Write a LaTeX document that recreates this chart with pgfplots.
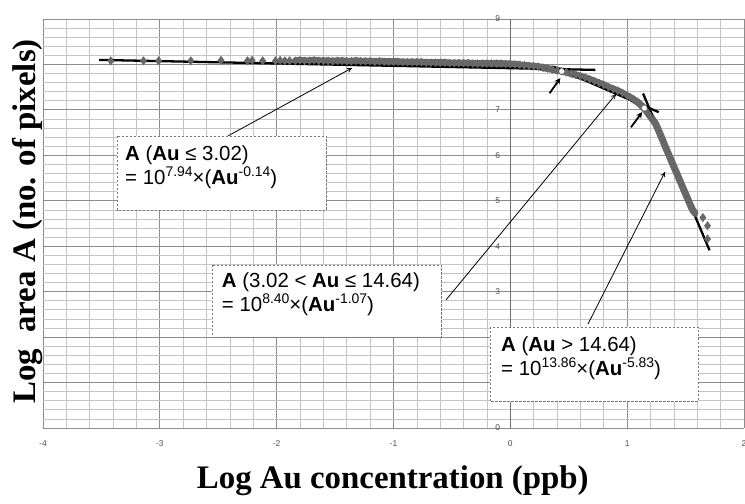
\documentclass[border=0pt]{standalone}
\usepackage{pgfplots}
\pgfplotsset{compat=1.18}
\usetikzlibrary{arrows.meta}
\usepackage{fontspec}
\setmainfont{Liberation Serif}
\newfontfamily\arial{Liberation Sans}
\definecolor{gridmajor}{RGB}{140,140,140}
\definecolor{gridminor}{RGB}{196,196,196}
\definecolor{ticktext}{RGB}{80,80,80}
\definecolor{pts}{RGB}{104,104,104}
\definecolor{boxline}{RGB}{120,120,120}
\newcommand{\sups}[1]{\raisebox{0.42em}{\fontsize{14}{14}\selectfont #1}}
\begin{document}
\begin{tikzpicture}
\path[use as bounding box] (-43bp,-76bp) rectangle (702bp,428bp);
\begin{axis}[
 at={(0,0)}, anchor=south west,
 width=701bp, height=409bp, scale only axis,
 xmin=-4, xmax=2, ymin=0, ymax=9,
 xtick={-4,...,2}, ytick={0,...,9},
 minor x tick num=4, minor y tick num=4,
 grid=both,
 major grid style={draw=gridmajor, line width=0.8bp},
 minor grid style={draw=gridminor, line width=0.7bp},
 axis line style={draw=none},
 major tick length=0pt, minor tick length=0pt,
 xticklabels={-4,-3,-2,-1,0,1,2},
 xticklabel style={font=\arial\fontsize{8.5}{9}\selectfont, text=ticktext, yshift=-9bp},
 yticklabels={},
 clip=false,
]
% axis lines
\draw[gridmajor!80!black, line width=0.9bp] (axis cs:0,0) -- (axis cs:0,9);
\draw[gridmajor, line width=0.9bp] (axis cs:-4,0) -- (axis cs:2,0);
% y tick labels at x = 0
\foreach \k in {0,...,9}{
  \edef\temp{\noexpand\node[anchor=east, inner sep=0pt, xshift=-10bp, font=\noexpand\arial\noexpand\fontsize{8.5}{9}\noexpand\selectfont, text=ticktext] at (axis cs:0,\k) {\k};}
  \temp
}
% sparse data points
\addplot[only marks, mark=diamond*, mark size=4.2bp, color=pts] coordinates {
(-3.42,8.08) (-3.14,8.08) (-3.01,8.08) (-2.735,8.08) (-2.476,8.09) (-2.25,8.08)
(-2.21,8.09) (-2.12,8.08) (-2.01,8.08) (-1.97,8.09) (-1.93,8.08) (-1.89,8.08)
(1.648,4.63) (1.688,4.45) (1.688,4.16)
};
% dense data points
\addplot[color=pts, line width=7bp, line join=round, line cap=round, mark=diamond*, mark size=4bp, mark options={line width=0.4bp}] coordinates {
(-1.84,8.08) (-1.80,8.09) (-1.76,8.08) (-1.72,8.08) (-1.68,8.09) (-1.64,8.08)
(-1.60,8.08) (-1.56,8.08) (-1.52,8.07) (-1.48,8.08) (-1.44,8.08) (-1.40,8.07)
(-1.36,8.07) (-1.32,8.08) (-1.28,8.07) (-1.24,8.07) (-1.20,8.07) (-1.16,8.06)
(-1.12,8.07) (-1.08,8.06) (-1.04,8.06) (-1.00,8.06) (-0.96,8.06) (-0.92,8.05)
(-0.88,8.05) (-0.84,8.05) (-0.80,8.05) (-0.76,8.05) (-0.72,8.04) (-0.68,8.04)
(-0.64,8.04) (-0.60,8.04) (-0.56,8.04) (-0.52,8.03) (-0.48,8.03) (-0.44,8.03)
(-0.40,8.03) (-0.36,8.03) (-0.32,8.02) (-0.28,8.02) (-0.24,8.02) (-0.20,8.02)
(-0.16,8.02) (-0.12,8.02) (-0.08,8.02) (-0.04,8.01) (0.00,8.01) (0.04,8.00)
(0.08,7.99) (0.12,7.98) (0.16,7.97) (0.20,7.96) (0.24,7.95) (0.28,7.93)
(0.32,7.91) (0.36,7.89) (0.40,7.87) (0.44,7.85) (0.48,7.83) (0.52,7.80)
(0.56,7.77) (0.60,7.74) (0.64,7.71) (0.68,7.67) (0.72,7.63) (0.76,7.59)
(0.80,7.55) (0.84,7.50) (0.88,7.46) (0.92,7.42) (0.96,7.37) (1.00,7.31)
(1.03,7.27) (1.06,7.22) (1.09,7.17) (1.12,7.10) (1.14,7.05) (1.16,6.99)
(1.18,6.92) (1.20,6.85) (1.22,6.78) (1.24,6.71) (1.26,6.60) (1.28,6.48)
(1.30,6.36) (1.32,6.23) (1.34,6.11) (1.36,5.99) (1.38,5.87) (1.40,5.75)
(1.42,5.63) (1.44,5.51) (1.46,5.39) (1.48,5.27) (1.50,5.15) (1.52,5.03)
(1.54,4.91) (1.56,4.80) (1.58,4.73)
};
% fitted lines
\addplot[black, line width=2.3bp, no marks] coordinates {(-3.52,8.10) (0.727,7.88)};
\addplot[black, line width=2.3bp, no marks] coordinates {(0.368,7.95) (1.27,6.95)};
\addplot[black, line width=2.3bp, no marks] coordinates {(1.136,7.36) (1.705,3.91)};
% break points
\addplot[only marks, mark=*, mark size=2.6bp, mark options={fill=white, draw=gray!60}] coordinates {(0.44,7.85) (1.148,7.04)};
% short arrows
\draw[-{Stealth[length=6bp,width=6bp]}, line width=1.8bp] (axis cs:0.336,7.366) -- (axis cs:0.428,7.70);
\draw[-{Stealth[length=6bp,width=6bp]}, line width=1.8bp] (axis cs:1.033,6.618) -- (axis cs:1.128,6.95);
% long arrows
\draw[-{To[length=5bp,width=5bp]}, line width=0.8bp] (axis cs:-2.417,6.426) -- (axis cs:-1.355,7.923);
\draw[-{To[length=5bp,width=5bp]}, line width=0.8bp] (axis cs:-0.551,2.817) -- (axis cs:0.905,7.350);
\draw[-{To[length=5bp,width=5bp]}, line width=0.8bp] (axis cs:0.665,2.289) -- (axis cs:1.324,5.634);
% boxes
\draw[boxline, fill=white, dash pattern=on 2.5bp off 1.5bp, line width=0.8bp] (axis cs:-3.367,6.426) rectangle (axis cs:-1.572,4.797);
\draw[boxline, fill=white, dash pattern=on 2.5bp off 1.5bp, line width=0.8bp] (axis cs:-2.553,3.587) rectangle (axis cs:-0.587,2.003);
\draw[boxline, fill=white, dash pattern=on 2.5bp off 1.5bp, line width=0.8bp] (axis cs:-0.174,2.223) rectangle (axis cs:1.606,0.579);
% box texts
\node[anchor=base west, inner sep=0pt, font=\arial\fontsize{20.5}{20.5}\selectfont] at (axis cs:-3.298,5.876) {\textbf{A} (\textbf{Au} ≤ 3.02)};
\node[anchor=base west, inner sep=0pt, font=\arial\fontsize{20.5}{20.5}\selectfont] at (axis cs:-3.298,5.348) {= 10\sups{7.94}×(\textbf{Au}\sups{-0.14})};
\node[anchor=base west, inner sep=0pt, font=\arial\fontsize{20.5}{20.5}\selectfont] at (axis cs:-2.470,3.081) {\textbf{A} (3.02 < \textbf{Au} ≤ 14.64)};
\node[anchor=base west, inner sep=0pt, font=\arial\fontsize{20.5}{20.5}\selectfont] at (axis cs:-2.470,2.553) {= 10\sups{8.40}×(\textbf{Au}\sups{-1.07})};
\node[anchor=base west, inner sep=0pt, font=\arial\fontsize{20.5}{20.5}\selectfont] at (axis cs:-0.080,1.679) {\textbf{A} (\textbf{Au} > 14.64)};
\node[anchor=base west, inner sep=0pt, font=\arial\fontsize{20.5}{20.5}\selectfont] at (axis cs:-0.080,1.151) {= 10\sups{13.86}×(\textbf{Au}\sups{-5.83})};
% axis labels
\node[font=\bfseries\fontsize{33}{33}\selectfont, inner sep=0pt] at ([yshift=-52.5bp]rel axis cs:0.499,0) {Log Au concentration (ppb)};
\node[font=\bfseries\fontsize{33}{33}\selectfont, inner sep=0pt, rotate=90] at ([xshift=-15.5bp]rel axis cs:0,0.505) {Log\hspace{0.5em}area A (no. of pixels)};
\end{axis}
\end{tikzpicture}
\end{document}
